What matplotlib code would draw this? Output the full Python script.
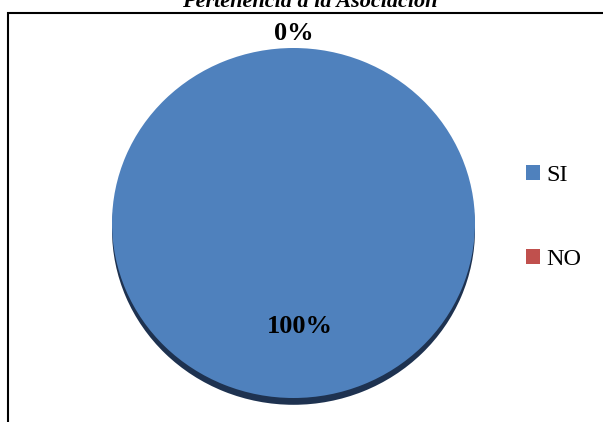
import matplotlib
matplotlib.use('Agg')
import matplotlib.pyplot as plt
from matplotlib.patches import Rectangle

titulo = 'Pertenencia a la Asociación'
categorias = ['SI', 'NO']
valores = [100, 0]
colores = ['#4F81BD', '#C0504D']

plt.rcParams['font.family'] = ['Liberation Serif', 'DejaVu Serif']

W, H = 603, 422
fig = plt.figure(figsize=(W / 100, H / 100), dpi=100)

# ejes de fondo en pixeles (y desde abajo)
base = fig.add_axes([0, 0, 1, 1])
base.set_xlim(0, W)
base.set_ylim(0, H)
base.axis('off')

# marco del grafico (sale por la derecha y por abajo)
fig.patches.append(Rectangle((8 / W, -0.05), 1.1, (H - 13) / H + 0.05,
                             transform=fig.transFigure, fill=False,
                             edgecolor='black', linewidth=1.5))

# caja del pastel: x 112..475, y 48..398 (desde arriba)
x0, x1, y0, y1 = 112, 475, 48, 398
ax = fig.add_axes([x0 / W, (H - y1) / H, (x1 - x0) / W, (y1 - y0) / H])
wedges, _ = ax.pie(valores, colors=colores, startangle=90, counterclock=False,
                   radius=1, frame=True,
                   shadow={'ox': 0, 'oy': -0.028, 'color': '#1E3250', 'alpha': 1},
                   wedgeprops={'linewidth': 0})
ax.set_aspect('auto')
ax.set_xlim(-1, 1)
ax.set_ylim(-1, 1)
ax.axis('off')

total = sum(valores)
pcts = ['{:.0f}%'.format(v * 100 / total) for v in valores]
ax.text(0.035, -0.59, pcts[0], ha='center', va='center',
        fontsize=19, fontweight='bold', clip_on=False)
ax.text(0.0, 1.085, pcts[1], ha='center', va='center',
        fontsize=19, fontweight='bold', clip_on=False)

base.text(310, H - 7, titulo, ha='center', va='baseline', fontsize=16,
          fontweight='bold', fontstyle='italic')

base.legend(wedges, categorias, loc='center left',
            bbox_to_anchor=(526 / W, (H - 217.5) / H),
            frameon=False, fontsize=17.5, labelspacing=2.6, handlelength=0.58,
            handleheight=0.58, handletextpad=0.25, borderaxespad=0, borderpad=0)

fig.savefig('out.png', dpi=100)
